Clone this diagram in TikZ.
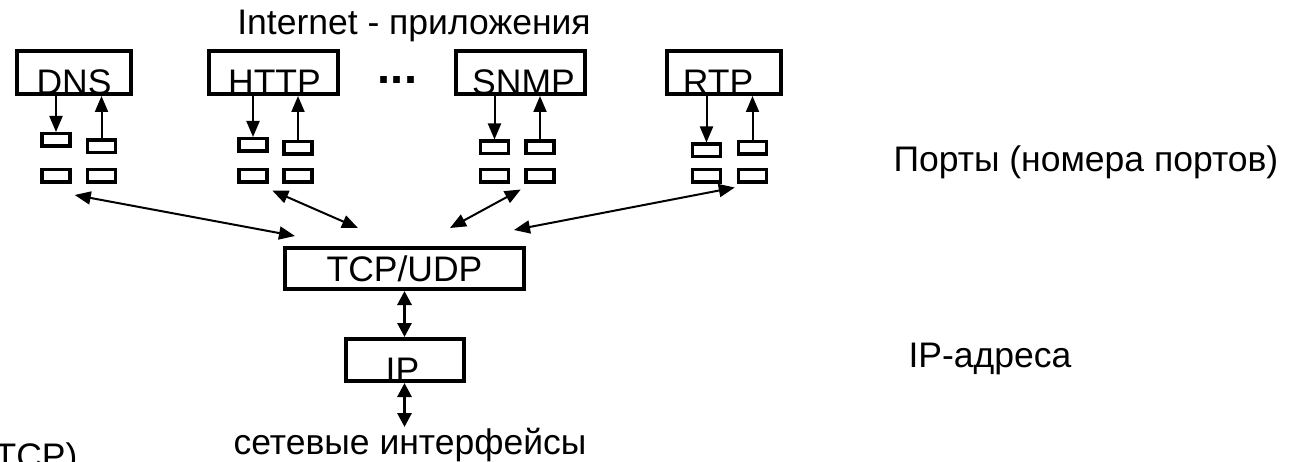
\documentclass[tikz,border=0pt]{standalone}
\usepackage{fontspec}
\setmainfont{Liberation Sans}
\usetikzlibrary{arrows.meta}
\begin{document}
\begin{tikzpicture}[x=1pt,y=-1pt,font=\fontsize{35.5}{40}\selectfont,>={Triangle[length=16pt,width=13pt]}]
\tikzstyle{boite}=[draw, line width=4pt, inner sep=0pt, minimum height=43pt]
\tikzstyle{port}=[draw, line width=3.5pt, inner sep=0pt, minimum width=28pt, minimum height=12.5pt]
\tikzstyle{fleche}=[line width=2pt]
\tikzstyle{pile}=[line width=3pt, >={Triangle[length=14pt,width=14pt]}]
\useasboundingbox (0,0) rectangle (1305,462);
\node[anchor=base] (titre) at (414,35) {Internet - приложения};
\node[boite, minimum width=114pt] (dns) at (74,72.5) {};
\node[boite, minimum width=129pt] (http) at (273.5,72.5) {};
\node[boite, minimum width=129pt] (snmp) at (520.5,72.5) {};
\node[boite, minimum width=114pt] (rtp) at (724,72.5) {};
\node[anchor=base] (dnsnom) at ([yshift=1pt]dns.south) {DNS};
\node[anchor=base] (httpnom) at ([xshift=1pt,yshift=1pt]http.south) {HTTP};
\node[anchor=base] (snmpnom) at ([xshift=3pt,yshift=1pt]snmp.south) {SNMP};
\node[anchor=base] (rtpnom) at ([xshift=-6pt,yshift=1pt]rtp.south) {RTP};
\node[anchor=base, font=\fontsize{47}{50}\selectfont\bfseries] (points) at (397.5,84) {...};
\foreach \n/\xa/\xb/\ya/\yb in {dns/56/101.5/140/146.5, http/253/298/145/148, snmp/494.5/540/147.5/147.5, rtp/706.5/752.5/150.5/148}{
  \node[port] (\n1) at (\xa,\ya) {};
  \node[port] (\n2) at (\xb,\yb) {};
  \node[port] (\n3) at (\xa,176) {};
  \node[port] (\n4) at (\xb,176) {};
  \draw[fleche,->] (\n.south -| \n1) -- (\n1.north);
  \draw[fleche,->] (\n2.north) -- (\n.south -| \n2);
}
\node[boite, minimum width=239pt, minimum height=41pt] (tcp) at (404.5,268.5) {};
\node[anchor=base] (tcpnom) at ([yshift=-13pt]tcp.center) {TCP/UDP};
\node[boite, minimum width=118pt, minimum height=42pt] (ip) at (404.5,360) {};
\node[anchor=base] (ipnom) at ([xshift=-2pt,yshift=1pt]ip.south) {IP};
\draw[fleche,<->] ([xshift=3pt,yshift=-11pt]dns3.south east) -- ([xshift=12pt,yshift=10pt]tcp.north west);
\draw[fleche,<->] ([xshift=3.5pt,yshift=-6.5pt]http3.south east) -- ([xshift=-46.5pt,yshift=18pt]tcp.north);
\draw[fleche,<->] ([xshift=-3.5pt,yshift=-5.5pt]snmp4.south west) -- ([xshift=45.5pt,yshift=18pt]tcp.north);
\draw[fleche,<->] ([xshift=-2pt,yshift=-3.5pt]rtp4.south west) -- ([xshift=-12pt,yshift=16pt]tcp.north east);
\coordinate (reseau) at (404.5,427);
\draw[pile,<->] (tcp) -- (ip);
\draw[pile,<->] (ip) -- (reseau);
\node[anchor=base] (ifs) at (410,454) {сетевые интерфейсы};
\node[anchor=base west] (ports) at (890,172) {Порты (номера портов)};
\node[anchor=base west] (adresses) at (905,367) {IP-адреса};
\node[anchor=base east] (tcpbas) at (81,468) {TCP)};
\end{tikzpicture}
\end{document}
